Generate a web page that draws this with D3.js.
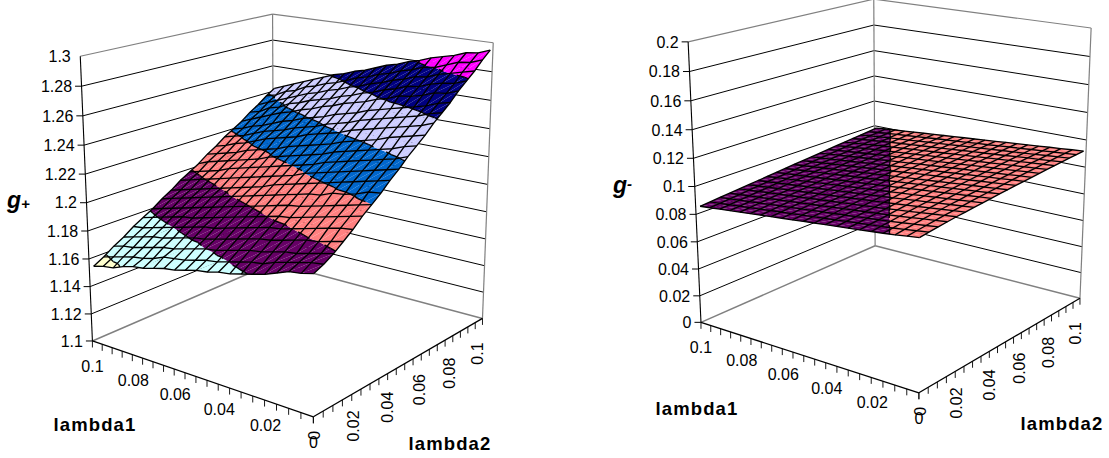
<!DOCTYPE html>
<html><head><meta charset="utf-8">
<script src="https://cdn.jsdelivr.net/npm/d3@7/dist/d3.min.js"></script>
<style>html,body{margin:0;padding:0;background:#fff;overflow:hidden}svg{display:block}text{font-family:"Liberation Sans",Arial,sans-serif;fill:#000}</style>
</head><body><svg id="c" width="1109" height="458"></svg>
<script>
const lambda1=[0,.005,.01,.015,.02,.025,.03,.035,.04,.045,.05,.055,.06,.065,.07,.075,.08,.085,.09,.095,.1];
const lambda2=[0,.005,.01,.015,.02,.025,.03,.035,.04,.045,.05,.055,.06,.065,.07,.075,.08,.085,.09,.095,.1];
const lambdaTicks=[0,.02,.04,.06,.08,.1];
const lambdaTickLabels=["0","0.02","0.04","0.06","0.08","0.1"];
const gPlusTicks=[1.1,1.12,1.14,1.16,1.18,1.2,1.22,1.24,1.26,1.28,1.3];
const gPlusTickLabels=["1.1","1.12","1.14","1.16","1.18","1.2","1.22","1.24","1.26","1.28","1.3"];
const gMinusTicks=[0,.02,.04,.06,.08,.1,.12,.14,.16,.18,.2];
const gMinusTickLabels=["0","0.02","0.04","0.06","0.08","0.1","0.12","0.14","0.16","0.18","0.2"];
const bandColors=["#9999ff","#993366","#ffffcc","#ccffff","#660066","#ff8080","#0066cc","#ccccff","#000080","#ff00ff"];
// rows: lambda1 ascending, columns: lambda2 ascending
const gPlus=[
[1.192,1.195,1.199,1.204,1.209,1.215,1.220,1.225,1.231,1.236,1.242,1.247,1.252,1.258,1.263,1.268,1.274,1.279,1.284,1.290,1.295],
[1.190,1.194,1.197,1.202,1.208,1.213,1.218,1.224,1.229,1.234,1.239,1.245,1.250,1.255,1.261,1.266,1.271,1.276,1.282,1.287,1.292],
[1.189,1.192,1.195,1.200,1.206,1.211,1.216,1.221,1.227,1.232,1.237,1.242,1.248,1.253,1.258,1.263,1.270,1.275,1.280,1.286,1.291],
[1.186,1.190,1.193,1.199,1.204,1.209,1.214,1.219,1.225,1.230,1.235,1.240,1.246,1.251,1.256,1.261,1.267,1.273,1.278,1.283,1.288],
[1.183,1.188,1.192,1.197,1.202,1.207,1.212,1.218,1.223,1.228,1.233,1.238,1.243,1.249,1.254,1.259,1.265,1.270,1.275,1.280,1.286],
[1.181,1.185,1.190,1.195,1.200,1.205,1.210,1.215,1.221,1.226,1.231,1.236,1.241,1.247,1.252,1.257,1.264,1.269,1.274,1.279,1.284],
[1.179,1.184,1.188,1.193,1.198,1.203,1.208,1.214,1.219,1.224,1.229,1.234,1.239,1.245,1.250,1.255,1.261,1.266,1.271,1.276,1.281],
[1.177,1.182,1.187,1.192,1.197,1.202,1.207,1.212,1.217,1.222,1.227,1.232,1.237,1.243,1.248,1.253,1.259,1.264,1.269,1.274,1.279],
[1.176,1.180,1.185,1.190,1.195,1.200,1.205,1.210,1.215,1.220,1.224,1.229,1.234,1.240,1.245,1.250,1.256,1.261,1.266,1.271,1.276],
[1.174,1.178,1.183,1.188,1.193,1.198,1.203,1.208,1.213,1.217,1.222,1.227,1.232,1.238,1.243,1.248,1.254,1.259,1.264,1.269,1.274],
[1.173,1.177,1.181,1.186,1.191,1.196,1.201,1.206,1.211,1.215,1.220,1.225,1.230,1.236,1.241,1.246,1.252,1.256,1.261,1.266,1.271],
[1.171,1.175,1.180,1.184,1.189,1.194,1.199,1.204,1.208,1.213,1.218,1.223,1.228,1.234,1.238,1.243,1.249,1.254,1.259,1.264,1.268],
[1.169,1.173,1.178,1.182,1.187,1.192,1.197,1.202,1.206,1.211,1.216,1.221,1.226,1.231,1.236,1.241,1.247,1.251,1.256,1.261,1.266],
[1.168,1.172,1.176,1.181,1.186,1.190,1.195,1.200,1.204,1.209,1.214,1.219,1.223,1.229,1.234,1.239,1.244,1.249,1.254,1.258,1.263],
[1.166,1.171,1.174,1.179,1.184,1.188,1.193,1.198,1.202,1.207,1.212,1.216,1.221,1.227,1.231,1.236,1.242,1.247,1.251,1.256,1.261],
[1.164,1.168,1.173,1.177,1.182,1.186,1.191,1.196,1.200,1.205,1.210,1.214,1.219,1.225,1.229,1.234,1.239,1.244,1.249,1.253,1.258],
[1.163,1.166,1.171,1.175,1.180,1.185,1.189,1.194,1.198,1.203,1.208,1.212,1.217,1.222,1.227,1.231,1.237,1.242,1.246,1.251,1.255],
[1.161,1.165,1.169,1.174,1.178,1.183,1.187,1.192,1.196,1.201,1.205,1.210,1.214,1.219,1.224,1.228,1.234,1.238,1.243,1.247,1.252],
[1.158,1.163,1.167,1.172,1.176,1.181,1.185,1.190,1.194,1.199,1.203,1.208,1.212,1.217,1.221,1.226,1.231,1.236,1.240,1.245,1.249],
[1.157,1.161,1.166,1.170,1.174,1.179,1.183,1.188,1.192,1.197,1.201,1.206,1.210,1.214,1.219,1.223,1.228,1.232,1.237,1.241,1.246],
[1.155,1.159,1.164,1.168,1.173,1.177,1.181,1.186,1.190,1.195,1.199,1.203,1.208,1.212,1.217,1.221,1.225,1.230,1.234,1.239,1.243]
];
const gMinus=[
[.1025,.1033,.1040,.1047,.1053,.1058,.1063,.1068,.1073,.1078,.1082,.1087,.1091,.1095,.1099,.1103,.1107,.1110,.1114,.1117,.1120],
[.1015,.1023,.1030,.1037,.1044,.1049,.1054,.1060,.1065,.1070,.1074,.1079,.1084,.1088,.1092,.1096,.1100,.1103,.1107,.1110,.1114],
[.1004,.1012,.1020,.1028,.1034,.1040,.1046,.1051,.1057,.1062,.1066,.1072,.1076,.1080,.1085,.1089,.1093,.1096,.1101,.1104,.1107],
[.0995,.1002,.1010,.1018,.1025,.1031,.1037,.1043,.1048,.1054,.1059,.1064,.1069,.1073,.1077,.1082,.1086,.1090,.1094,.1097,.1101],
[.0987,.0994,.1000,.1008,.1015,.1022,.1028,.1034,.1040,.1046,.1051,.1056,.1061,.1066,.1070,.1075,.1079,.1083,.1087,.1091,.1094],
[.0979,.0986,.0992,.0999,.1006,.1013,.1020,.1026,.1032,.1038,.1043,.1049,.1054,.1058,.1063,.1068,.1072,.1076,.1080,.1084,.1088],
[.0971,.0978,.0984,.0991,.0997,.1004,.1011,.1017,.1024,.1030,.1035,.1041,.1046,.1051,.1056,.1061,.1065,.1069,.1074,.1078,.1081],
[.0963,.0970,.0976,.0983,.0989,.0996,.1002,.1009,.1016,.1022,.1027,.1033,.1038,.1044,.1049,.1053,.1058,.1062,.1067,.1071,.1075],
[.0956,.0962,.0968,.0975,.0981,.0988,.0994,.1001,.1007,.1014,.1020,.1026,.1031,.1036,.1041,.1046,.1051,.1056,.1060,.1064,.1068],
[.0948,.0954,.0960,.0967,.0973,.0980,.0986,.0993,.0999,.1006,.1012,.1018,.1023,.1029,.1034,.1039,.1044,.1049,.1054,.1058,.1062],
[.0940,.0946,.0952,.0959,.0965,.0972,.0978,.0985,.0991,.0998,.1004,.1010,.1016,.1022,.1027,.1032,.1037,.1042,.1047,.1051,.1055],
[.0932,.0938,.0944,.0951,.0957,.0964,.0970,.0977,.0983,.0990,.0996,.1002,.1008,.1014,.1020,.1025,.1030,.1035,.1040,.1045,.1049],
[.0924,.0930,.0937,.0943,.0949,.0956,.0962,.0969,.0975,.0982,.0988,.0994,.1001,.1007,.1013,.1018,.1023,.1028,.1034,.1038,.1043],
[.0916,.0922,.0929,.0935,.0941,.0948,.0954,.0961,.0967,.0974,.0980,.0987,.0993,.0999,.1005,.1011,.1016,.1022,.1027,.1032,.1036],
[.0908,.0914,.0921,.0927,.0933,.0940,.0946,.0953,.0959,.0966,.0972,.0979,.0985,.0991,.0998,.1004,.1009,.1015,.1020,.1025,.1030],
[.0900,.0906,.0913,.0919,.0926,.0932,.0938,.0945,.0951,.0958,.0964,.0971,.0977,.0983,.0990,.0996,.1002,.1008,.1013,.1018,.1023],
[.0892,.0898,.0905,.0911,.0918,.0924,.0931,.0937,.0943,.0950,.0956,.0963,.0969,.0976,.0982,.0989,.0995,.1001,.1007,.1012,.1017],
[.0884,.0890,.0897,.0903,.0910,.0916,.0923,.0929,.0935,.0942,.0948,.0955,.0961,.0968,.0974,.0981,.0987,.0993,.0999,.1005,.1010],
[.0876,.0882,.0889,.0895,.0902,.0908,.0915,.0921,.0927,.0934,.0940,.0947,.0953,.0960,.0966,.0973,.0979,.0986,.0992,.0998,.1004],
[.0868,.0874,.0881,.0887,.0894,.0900,.0907,.0913,.0920,.0926,.0932,.0939,.0945,.0952,.0958,.0965,.0971,.0978,.0984,.0990,.0997],
[.0860,.0867,.0873,.0879,.0886,.0892,.0899,.0905,.0912,.0918,.0925,.0931,.0937,.0944,.0950,.0957,.0963,.0970,.0976,.0982,.0989]
];

// ---- layout of each 3-D box (screen position of the box corners)
const charts=[
 {values:gPlus,ticks:gPlusTicks,tickLabels:gPlusTickLabels,
  box:[[1,0,0,93,341],[1,0,1,80,56],[0,0,0,313,417],[0,1,0,483,318],[0,1,1,493,43],[1,1,0,273,263],[1,1,1,273,14]],
  name:"g",sub:"+",nameX:7,nameY:208,subX:21,subY:209,l1:[95,424],l2:[450,443],topTick:false},
 {values:gMinus,ticks:gMinusTicks,tickLabels:gMinusTickLabels,
  box:[[1,0,0,701,322],[1,0,1,688,42],[0,0,0,919,393],[0,1,0,1080,298],[0,1,1,1091,28],[1,1,0,875,246],[1,1,1,874,-1]],
  name:"g",sub:"-",nameX:613,nameY:193,subX:627,subY:189,l1:[697,408],l2:[1062,423],topTick:true}
];

function solve(A,b){
  const n=b.length,M=A.map((r,i)=>[...r,b[i]]);
  for(let c=0;c<n;c++){
    let p=c;for(let r=c+1;r<n;r++)if(Math.abs(M[r][c])>Math.abs(M[p][c]))p=r;
    [M[c],M[p]]=[M[p],M[c]];
    for(let r=0;r<n;r++){if(r===c)continue;const f=M[r][c]/M[c][c];for(let k=c;k<=n;k++)M[r][k]-=f*M[c][k];}
  }
  return M.map((r,i)=>r[n]/r[i]);
}
function projection(box){
  const S=500,R=[],B=[];
  box.forEach(([X,Y,Z,x,y])=>{x/=S;y/=S;
    R.push([X,Y,Z,1,0,0,0,0,-x*X,-x*Y,-x*Z]);B.push(x);
    R.push([0,0,0,0,X,Y,Z,1,-y*X,-y*Y,-y*Z]);B.push(y);});
  const N=d3.range(11).map(i=>d3.range(11).map(j=>d3.sum(R,r=>r[i]*r[j])));
  const v=d3.range(11).map(i=>d3.sum(R,(r,k)=>r[i]*B[k]));
  const p=solve(N,v);
  return (X,Y,Z)=>{const w=p[8]*X+p[9]*Y+p[10]*Z+1;
    return [S*(p[0]*X+p[1]*Y+p[2]*Z+p[3])/w,S*(p[4]*X+p[5]*Y+p[6]*Z+p[7])/w];};
}
function clip(poly,level,keepAbove){
  const out=[];
  poly.forEach((a,i)=>{const b=poly[(i+1)%poly.length];
    const ia=keepAbove?a.g>=level:a.g<=level, ib=keepAbove?b.g>=level:b.g<=level;
    if(ia)out.push(a);
    if(ia!==ib){const t=(level-a.g)/(b.g-a.g);
      out.push({a:a.a+t*(b.a-a.a),b:a.b+t*(b.b-a.b),g:level});}
  });
  return out;
}
const svg=d3.select("#c");
const line=d3.line();
charts.forEach(ch=>{
  const P=projection(ch.box);
  const axisX=d3.scaleLinear().domain([0,.1]).range([0,1]);
  const axisY=d3.scaleLinear().domain([0,.1]).range([0,1]);
  const meshX=d3.scaleLinear().domain([0,.1]).range([.006,.985]);
  const meshY=d3.scaleLinear().domain([0,.1]).range([.007,.992]);
  const zS=d3.scaleLinear().domain(d3.extent(ch.ticks)).range([0,1]);
  const pt=(l1,l2,g)=>P(axisX(l1),axisY(l2),zS(g));
  const ms=(l1,l2,g)=>P(meshX(l1),meshY(l2),zS(g));
  const g=svg.append("g");
  const [zMin,zMax]=zS.domain();
  const seg=(a,b,col,w)=>g.append("path").attr("d",line([a,b])).attr("fill","none").attr("stroke",col).attr("stroke-width",w);
  // walls
  ch.ticks.forEach((t,i)=>{
    const edge=i===0||i===ch.ticks.length-1;
    const c=edge?"#808080":"#000",w=edge?(i===0?1.5:1.2):1;
    seg(pt(.1,0,t),pt(.1,.1,t),c,w);
    seg(pt(.1,.1,t),pt(0,.1,t),c,w);
  });
  seg(pt(.1,.1,zMin),pt(.1,.1,zMax),"#808080",1.2);
  seg(pt(0,.1,zMin),pt(0,.1,zMax),"#808080",1.2);
  // surface bands, triangle by triangle
  const vals=ch.values,lev=ch.ticks;
  const isoSegs=[];
  for(let i=0;i<lambda1.length-1;i++)for(let j=0;j<lambda2.length-1;j++){
    const v=(r,c)=>({a:lambda1[r],b:lambda2[c],g:vals[r][c]});
    [[v(i,j),v(i+1,j),v(i,j+1)],[v(i+1,j+1),v(i+1,j),v(i,j+1)]].forEach(tri=>{
      for(let k=0;k<lev.length-1;k++){
        const lo=d3.min(tri,d=>d.g),hi=d3.max(tri,d=>d.g);
        if(hi<lev[k]||lo>lev[k+1])continue;
        let poly=clip(clip(tri,lev[k],true),lev[k+1],false);
        if(poly.length<3)continue;
        g.append("path").attr("d",line(poly.map(d=>ms(d.a,d.b,d.g)))+"Z").attr("fill",bandColors[k]);
      }
      lev.forEach(L=>{
        const c=[];tri.forEach((a,q)=>{const b=tri[(q+1)%3];
          if((a.g-L)*(b.g-L)<0){const t=(L-a.g)/(b.g-a.g);c.push({a:a.a+t*(b.a-a.a),b:a.b+t*(b.b-a.b),g:L});}});
        if(c.length===2)isoSegs.push(c);
      });
    });
  }
  const mesh=g.append("g").attr("fill","none").attr("stroke","#000").attr("stroke-width",1.35).attr("stroke-linejoin","round");
  lambda1.forEach((l,i)=>mesh.append("path").attr("d",line(lambda2.map((m,j)=>ms(l,m,vals[i][j])))));
  lambda2.forEach((m,j)=>mesh.append("path").attr("d",line(lambda1.map((l,i)=>ms(l,m,vals[i][j])))));
  isoSegs.forEach(c=>mesh.append("path").attr("d",line(c.map(d=>ms(d.a,d.b,d.g)))));
  // axes
  seg(pt(.1,0,zMin),pt(.1,0,zMax),"#000",1.1);
  seg(pt(.1,0,zMin),pt(0,0,zMin),"#000",1.3);
  seg(pt(0,0,zMin),pt(0,.1,zMin),"#000",1.3);
  ch.ticks.forEach((t,i)=>{
    const q=pt(.1,0,t);
    if(i<ch.ticks.length-1||ch.topTick)seg([q[0]-6.5,q[1]],q,"#000",1);
    g.append("text").attr("x",q[0]-9.5).attr("y",q[1]).attr("dy","0.36em").attr("text-anchor","end").attr("font-size",16).text(ch.tickLabels[i]);
  });
  lambda1.forEach(l=>{const q=pt(l,0,zMin);seg(q,[q[0],q[1]+6.5],"#000",.9);});
  lambda2.forEach(m=>{const q=pt(0,m,zMin);seg(q,[q[0],q[1]+6.5],"#000",.9);});
  const bxS=d3.scaleLinear().domain([0,.02,.1]).range([7,7,1]);
  const byS=d3.scaleLinear().domain([0,.1]).range([14,24]);
  lambdaTicks.forEach((t,i)=>{
    const a=pt(t,0,zMin);
    g.append("text").attr("x",a[0]+(t>0&&t<.1?1:0)).attr("y",a[1]+31).attr("text-anchor","middle").attr("font-size",16).text(lambdaTickLabels[i]);
    const b=pt(0,t,zMin);
    g.append("text").attr("transform",`translate(${b[0]+bxS(t)},${b[1]+byS(t)}) rotate(-90)`).attr("text-anchor","end").attr("font-size",16).text(lambdaTickLabels[i]);
  });
  const bold=(x,y,s)=>g.append("text").attr("x",x).attr("y",y).attr("text-anchor","middle").attr("font-weight","bold").attr("font-size",18.5).attr("letter-spacing","1.1").text(s);
  bold(ch.l1[0],ch.l1[1]+6.5,"lambda1");
  bold(ch.l2[0],ch.l2[1]+6.5,"lambda2");
  g.append("text").attr("x",ch.nameX).attr("y",ch.nameY).attr("font-size",23).attr("font-weight","bold").attr("font-style","italic").text(ch.name);
  g.append("text").attr("x",ch.subX).attr("y",ch.subY).attr("font-size",15).attr("font-weight","bold").attr("font-style","italic").text(ch.sub);
});
</script></body></html>
